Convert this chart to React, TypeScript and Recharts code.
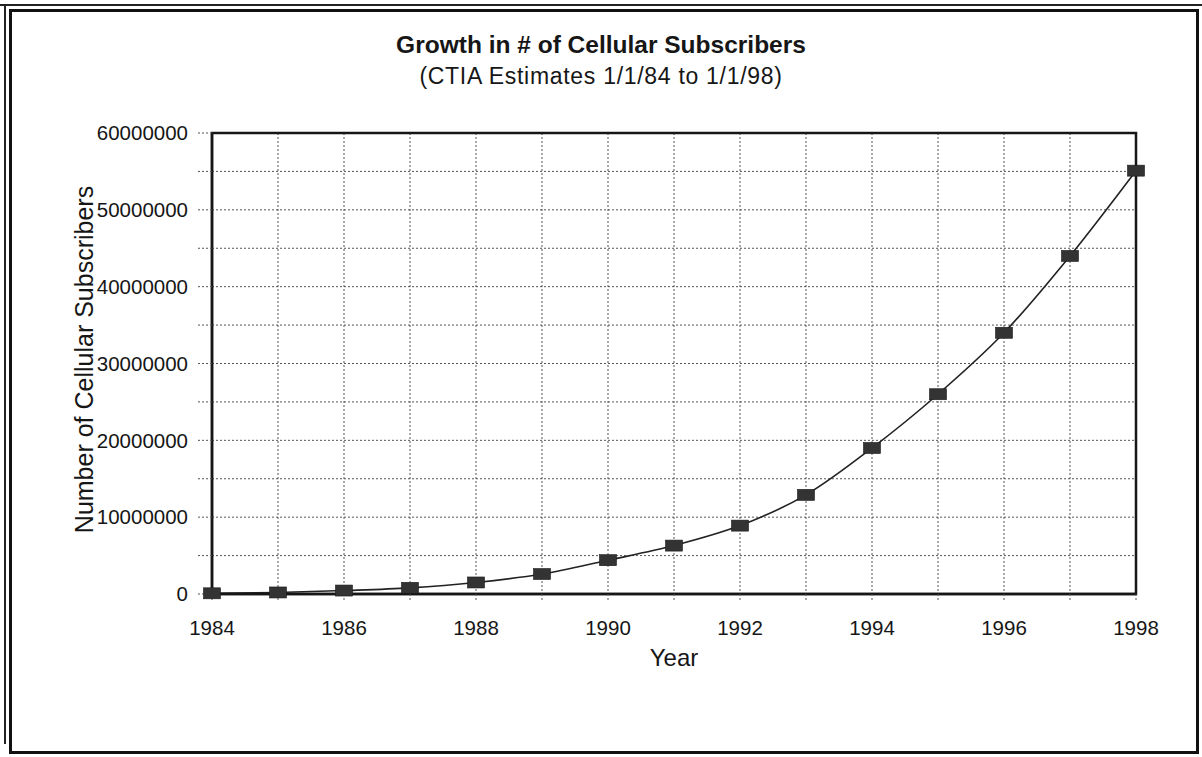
import { LineChart, Line, XAxis, YAxis, CartesianGrid, ReferenceArea } from "recharts";

const years = [1984, 1985, 1986, 1987, 1988, 1989, 1990, 1991, 1992, 1993, 1994, 1995, 1996, 1997, 1998];
const subscribers = [
  90000, 200000, 450000, 800000, 1500000, 2600000, 4400000, 6300000, 8900000, 12900000, 19000000,
  26000000, 34000000, 44000000, 55100000,
];
const yTicks = [0, 5000000, 10000000, 15000000, 20000000, 25000000, 30000000, 35000000, 40000000, 45000000, 50000000, 55000000, 60000000];
const labelledYears = [1984, 1986, 1988, 1990, 1992, 1994, 1996, 1998];

const data = years.map((year, i) => ({ year, subscribers: subscribers[i] }));

const FONT = "'Liberation Sans', Arial, Helvetica, sans-serif";
const INK = "#161616";
const axisTick = { fontSize: 20.5, fill: INK, fontFamily: FONT };
const dotted = { stroke: "#555", strokeDasharray: "2 2" };

const Marker = (props: any) => {
  const { cx, cy } = props;
  if (cx == null || cy == null) return null;
  return <rect x={cx - 8.5} y={cy - 5.5} width={17} height={11} fill="#333" stroke="#1a1a1a" strokeWidth={0.6} />;
};

export default function App() {
  return (
    <div
      style={{
        position: "absolute",
        left: 0,
        top: 0,
        width: 1202,
        height: 757,
        background: "#fff",
        fontFamily: FONT,
        color: INK,
      }}
    >
      {/* scanned page frame */}
      <div style={{ position: "absolute", left: 0, top: 4, width: 1202, height: 2, background: "#222" }} />
      <div style={{ position: "absolute", left: 4, top: 4, width: 2, height: 740, background: "#222" }} />
      <div
        style={{
          position: "absolute",
          left: 9,
          top: 9,
          width: 1190 - 6,
          height: 745 - 6,
          border: "3px solid #111",
        }}
      />

      <div
        style={{
          position: "absolute",
          top: 33,
          left: 0,
          width: 1202,
          textAlign: "center",
          fontSize: 24.5,
          fontWeight: 700,
          lineHeight: 1,
        }}
      >
        Growth in # of Cellular Subscribers
      </div>
      <div
        style={{
          position: "absolute",
          top: 65,
          left: 0,
          width: 1202,
          textAlign: "center",
          fontSize: 23,
          letterSpacing: 0.7,
          lineHeight: 1,
        }}
      >
        (CTIA Estimates 1/1/84 to 1/1/98)
      </div>

      <div style={{ position: "absolute", left: 0, top: 0 }}>
        <LineChart width={1202} height={757} data={data} margin={{ top: 133, right: 66, bottom: 83, left: 0 }}>
          <CartesianGrid stroke="#555" strokeDasharray="2 2" strokeWidth={1} />
          <XAxis
            dataKey="year"
            type="number"
            domain={[1984, 1998]}
            ticks={years}
            interval={0}
            tickFormatter={(v: number) => (labelledYears.includes(v) ? String(v) : "")}
            tick={axisTick}
            tickLine={dotted}
            tickSize={6}
            tickMargin={20}
            axisLine={{ stroke: INK, strokeWidth: 2.5 }}
            height={80}
            label={{
              value: "Year",
              position: "insideBottom",
              offset: 8,
              style: { fontSize: 24, fill: INK, fontFamily: FONT },
            }}
          />
          <YAxis
            type="number"
            domain={[0, 60000000]}
            ticks={yTicks}
            interval={0}
            tickFormatter={(v: number) => (v % 10000000 === 0 ? String(v) : "")}
            tick={axisTick}
            tickLine={dotted}
            tickSize={14}
            tickMargin={10}
            axisLine={{ stroke: INK, strokeWidth: 2.5 }}
            width={212}
            label={{
              value: "Number of Cellular Subscribers",
              angle: -90,
              position: "center",
              dx: -22,
              dy: -4,
              style: { fontSize: 25, fill: INK, fontFamily: FONT, textAnchor: "middle" },
            }}
          />
          <ReferenceArea
            x1={1984}
            x2={1998}
            y1={0}
            y2={60000000}
            fill="none"
            fillOpacity={0}
            stroke={INK}
            strokeWidth={2.5}
            ifOverflow="visible"
          />
          <Line
            type="monotone"
            dataKey="subscribers"
            stroke="#222"
            strokeWidth={1.6}
            dot={<Marker />}
            activeDot={false}
            isAnimationActive={false}
          />
        </LineChart>
      </div>
    </div>
  );
}
